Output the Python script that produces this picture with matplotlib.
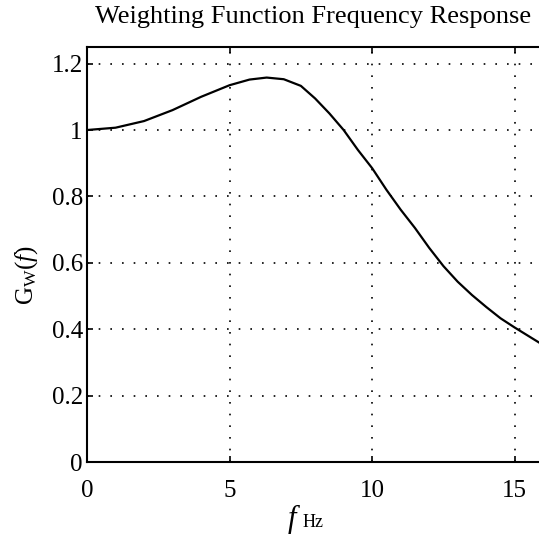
import matplotlib
matplotlib.use('Agg')
import matplotlib.pyplot as plt

# Werte
freq = [0, 1, 2, 3, 4, 5, 5.7, 6.3, 6.9, 7.5, 8, 8.5, 9, 9.5, 10, 10.5,
        11, 11.5, 12, 12.5, 13, 13.5, 14, 14.5, 15, 15.85]
gain = [1.0, 1.007, 1.027, 1.06, 1.10, 1.135, 1.152, 1.158, 1.153, 1.133,
        1.095, 1.05, 1.0, 0.94, 0.885, 0.82, 0.76, 0.705, 0.645, 0.59,
        0.543, 0.503, 0.467, 0.433, 0.405, 0.36]
xticks = [0, 5, 10, 15]
yticks = [0, 0.2, 0.4, 0.6, 0.8, 1.0, 1.2]
ytick_labels = ['0', '0.2', '0.4', '0.6', '0.8', '1', '1.2']

plt.rcParams['font.family'] = ['Liberation Serif', 'DejaVu Serif']
plt.rcParams['mathtext.fontset'] = 'custom'
plt.rcParams['mathtext.rm'] = 'Liberation Serif'
plt.rcParams['mathtext.it'] = 'Liberation Serif:italic'

fig = plt.figure(figsize=(5.39, 5.35), dpi=100)
ax = fig.add_axes([0.1614, 0.1364, 0.8386, 0.7757])

ax.plot(freq, gain, color='black', linewidth=1.6)

ax.set_xlim(0, 15.85)
ax.set_ylim(0, 1.25)
ax.set_xticks(xticks)
ax.set_yticks(yticks)
ax.set_yticklabels(ytick_labels)

# gepunktetes Gitter wie bei MATLAB
ax.grid(True, color='black', linestyle=(0, (1, 6)), linewidth=1.2)

for side in ['left', 'bottom', 'top']:
    ax.spines[side].set_linewidth(1.5)
ax.spines['right'].set_visible(False)

ax.tick_params(axis='both', direction='in', length=4, width=1.2,
               labelsize=18, top=True)
ax.tick_params(axis='x', pad=13)
ax.tick_params(axis='y', pad=3)

ax.set_title('Weighting Function Frequency Response', fontsize=19, pad=17)
ax.set_ylabel(r'G$_{\mathrm{W}}$($f$)', fontsize=18)
ax.yaxis.set_label_coords(-0.105, 0.45)

# x-Beschriftung: grosses kursives f, kleineres Hz
fig.text(294 / 539, 1 - 527 / 535, r'$f$', fontsize=22, ha='center',
         va='baseline')
fig.text(303 / 539, 1 - 527 / 535, 'Hz', fontsize=13, ha='left',
         va='baseline')

fig.savefig('out.png', dpi=100)
